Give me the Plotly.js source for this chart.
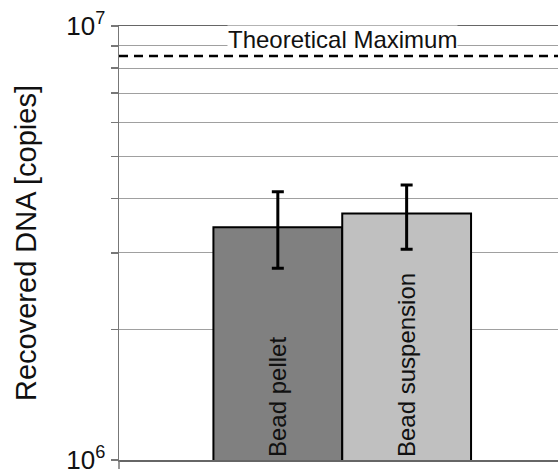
<!DOCTYPE html>
<html>
<head>
<meta charset="utf-8">
<script src="https://cdn.plot.ly/plotly-3.0.1.min.js"></script>
<style>html,body{margin:0;padding:0;background:#fff;overflow:hidden}</style>
</head>
<body>
<div id="chart" style="width:558px;height:469px"></div>
<script>
const categories = ["Bead pellet", "Bead suspension"];
const recovered = [3.44e6, 3.70e6];
const errPlus = [0.71e6, 0.60e6];
const errMinus = [0.675e6, 0.64e6];
const barColors = ["#808080", "#c0c0c0"];
const theoreticalMax = 8.53e6;
const theoreticalLabel = "Theoretical Maximum";
const tickVals = [1e6, 2e6, 3e6, 4e6, 5e6, 6e6, 7e6, 8e6, 9e6, 1e7];
const tickText = ["10<sup>6</sup>", " ", " ", " ", " ", " ", " ", " ", " ", "10<sup>7</sup>"];
const yTitle = "Recovered DNA [copies]";

const trace = {
  type: "bar",
  x: categories,
  y: recovered,
  text: categories,
  textposition: "inside",
  insidetextanchor: "start",
  textangle: -90,
  textfont: {family: "Liberation Sans, Arial, sans-serif", size: 24, color: "#111"},
  constraintext: "none",
  marker: {color: barColors, line: {color: "#000", width: 2}},
  error_y: {type: "data", symmetric: false, array: errPlus, arrayminus: errMinus,
            color: "#000", thickness: 3, width: 6},
  hoverinfo: "none"
};

const layout = {
  width: 558, height: 469,
  margin: {l: 119, r: 0, t: 26, b: 9},
  paper_bgcolor: "#fff", plot_bgcolor: "#fff",
  showlegend: false,
  bargap: 0,
  font: {family: "Liberation Sans, Arial, sans-serif", color: "#111"},
  xaxis: {
    type: "category",
    range: [-1.233, 2.175],
    showticklabels: false, ticks: "",
    showgrid: false, zeroline: false,
    showline: true, linecolor: "#666", linewidth: 1.5, mirror: true
  },
  yaxis: {
    type: "log",
    range: [6, 7],
    tickmode: "array",
    tickvals: tickVals, ticktext: tickText,
    tickfont: {family: "Liberation Sans, Arial, sans-serif", size: 26, color: "#111"},
    ticklabeloverflow: "allow",
    ticks: "outside", ticklen: 7, tickcolor: "#777", tickwidth: 1.5,
    showgrid: true, gridcolor: "#a0a0a0", gridwidth: 1,
    showline: true, linecolor: "#777", linewidth: 1.5,
    zeroline: false,
    automargin: false,
    title: {text: yTitle, font: {size: 29, color: "#111"}, standoff: 21}
  },
  shapes: [{
    type: "line", xref: "paper", x0: 0, x1: 1,
    yref: "y", y0: theoreticalMax, y1: theoreticalMax,
    line: {color: "#000", width: 2.5, dash: "9px,6px"}
  }, {
    type: "line", xref: "paper", x0: 0, x1: 0,
    yref: "paper", y0: 0, y1: -0.03,
    line: {color: "#777", width: 1.5}
  }],
  annotations: [{
    text: theoreticalLabel, xref: "x", x: 0.5, yref: "paper", y: 0.968,
    xanchor: "center", yanchor: "middle", showarrow: false,
    bgcolor: "#fff", borderpad: 0,
    font: {size: 24, color: "#111"}
  }]
};

Plotly.newPlot("chart", [trace], layout, {staticPlot: true, displayModeBar: false});
</script>
</body>
</html>
